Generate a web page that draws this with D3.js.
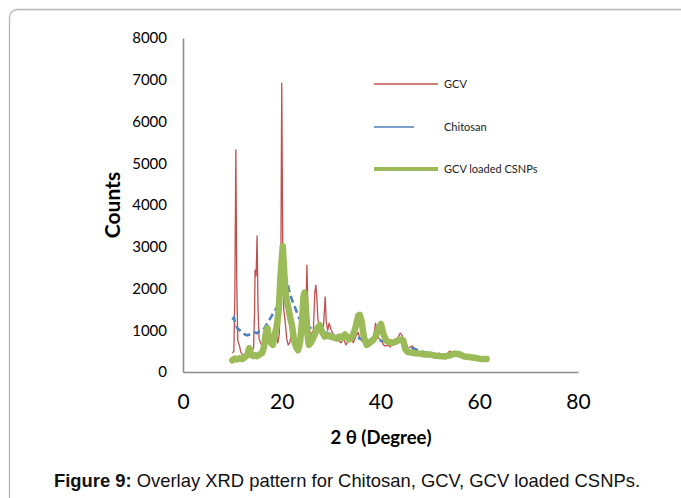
<!DOCTYPE html>
<html><head><meta charset="utf-8">
<script src="https://cdn.jsdelivr.net/npm/d3@7"></script>
<style>body{margin:0;background:#fff}svg{display:block}</style>
</head><body>
<script>
const xTicks = [0, 20, 40, 60, 80];
const yTicks = [0, 1000, 2000, 3000, 4000, 5000, 6000, 7000, 8000];
const seriesNames = ["GCV", "Chitosan", "GCV loaded CSNPs"];

const gcv = [[10.0,450],[10.3,500],[10.5,1800],[10.7,5320],[10.9,2000],[11.1,750],[11.4,650],[11.7,480],[12.0,420],[12.5,400],[13.0,450],[13.5,420],[14.0,480],[14.3,600],[14.5,1500],[14.6,2440],[14.8,2300],[15.0,3260],[15.2,1500],[15.4,800],[15.7,700],[16.0,620],[16.5,560],[17.0,700],[17.3,900],[17.6,650],[18.0,800],[18.4,900],[18.8,1000],[19.2,700],[19.5,900],[19.8,2200],[20.0,6920],[20.2,3000],[20.4,1500],[20.7,1200],[21.0,800],[21.3,650],[21.6,700],[22.0,900],[22.3,1100],[22.6,800],[23.0,700],[23.4,650],[23.8,800],[24.2,900],[24.6,1200],[24.9,1500],[25.1,2560],[25.3,1500],[25.6,1000],[26.0,900],[26.4,1000],[26.7,1900],[26.9,2080],[27.1,1800],[27.3,1300],[27.6,1000],[28.0,900],[28.4,1000],[28.7,1600],[28.8,1800],[29.0,1200],[29.3,1000],[29.6,1170],[30.0,1000],[30.5,900],[31.0,850],[31.5,750],[32.0,700],[32.5,800],[33.0,650],[33.5,750],[34.0,800],[34.5,700],[35.0,850],[35.5,950],[35.8,800],[36.2,750],[36.6,700],[37.0,650],[37.5,600],[38.0,650],[38.5,750],[38.8,1000],[39.0,1170],[39.3,900],[39.7,800],[40.2,750],[40.6,650],[41.0,620],[41.5,650],[42.0,600],[42.5,700],[43.0,750],[43.5,820],[44.0,930],[44.3,900],[44.6,800],[45.0,650],[45.5,550],[46.0,600],[46.5,620],[47.0,500],[47.5,470],[48.0,450],[49.0,470],[50.0,430],[51.0,420],[52.0,450],[53.0,380],[54.0,500],[55.0,420],[56.0,400],[57.0,380],[58.0,350],[59.0,330],[60.0,320],[61.0,300]];

const chitosan = [[10.0,1250],[10.3,1300],[10.6,1150],[11.0,1050],[11.5,1000],[12.0,950],[12.5,900],[13.0,880],[13.5,900],[14.0,920],[14.5,950],[15.0,930],[15.5,980],[16.0,1000],[16.5,1050],[17.0,1150],[17.5,1250],[18.0,1350],[18.5,1450],[19.0,1550],[19.5,1800],[20.0,2100],[20.5,2270],[21.0,2200],[21.5,1950],[22.0,1750],[22.5,1600],[23.0,1450],[23.5,1300],[24.0,1200],[24.5,1150],[25.0,1100],[26.0,1050],[27.0,1050],[28.0,1000],[29.0,950],[30.0,900],[31.0,870],[32.0,850],[33.0,830],[34.0,820],[35.0,820],[36.0,800],[37.0,780],[38.0,770],[39.0,760],[40.0,750],[41.0,740],[42.0,730],[43.0,720],[44.0,700],[45.0,650],[46.0,580],[47.0,550],[48.0,500],[49.0,470],[50.0,450],[52.0,420],[54.0,410],[56.0,380],[58.0,350],[60.0,320],[61.0,300]];

const csnp = [[10.0,280],[10.5,320],[11.0,300],[11.5,330],[12.0,310],[12.5,350],[13.0,400],[13.4,570],[13.8,420],[14.2,380],[14.6,400],[15.0,380],[15.5,420],[16.0,450],[16.4,600],[16.8,950],[17.1,1050],[17.4,800],[17.8,700],[18.2,650],[18.6,900],[19.0,1100],[19.4,1500],[19.7,2200],[20.0,2700],[20.2,3010],[20.4,2600],[20.7,2000],[21.0,1720],[21.4,1500],[21.8,1250],[22.1,1100],[22.5,750],[22.9,600],[23.3,520],[23.7,700],[24.1,1200],[24.4,1800],[24.6,1900],[24.9,1500],[25.2,900],[25.5,650],[25.9,700],[26.3,800],[26.7,900],[27.2,1050],[27.7,1120],[28.2,950],[28.7,850],[29.2,880],[29.8,850],[30.5,830],[31.2,800],[31.8,850],[32.3,820],[32.8,900],[33.2,850],[33.6,780],[34.0,800],[34.5,900],[35.0,1100],[35.5,1350],[35.8,1370],[36.2,1200],[36.6,850],[37.2,650],[37.8,700],[38.4,750],[39.0,850],[39.6,1050],[40.1,1150],[40.6,900],[41.2,750],[41.8,720],[42.4,700],[43.0,720],[43.6,760],[44.2,780],[44.6,760],[45.0,550],[45.5,480],[46.0,470],[47.0,450],[48.0,440],[49.0,420],[50.0,420],[51.0,390],[52.0,380],[53.0,370],[54.0,400],[55.0,440],[56.0,430],[57.0,370],[58.0,360],[59.0,340],[60.0,320],[61.0,310],[61.5,310]];

const W = 681, H = 498;
const svg = d3.select("body").append("svg").attr("width", W).attr("height", H);

// frame
svg.append("rect").attr("x", 9.5).attr("y", 9.5).attr("width", 720).attr("height", 540)
  .attr("rx", 8).attr("fill", "none").attr("stroke", "#b4b4b4").attr("stroke-width", 1.3);

const x = d3.scaleLinear().domain([0, 80]).range([183, 578]);
const y = d3.scaleLinear().domain([0, 8000]).range([372, 38]);

const font = "Lato, 'Open Sans', sans-serif";

// axes
const xAxis = svg.append("g").attr("transform", `translate(0,${y(0)})`)
  .call(d3.axisBottom(x).tickValues(xTicks).tickSize(0).tickPadding(22));
xAxis.select(".domain").attr("stroke", "#8c8c8c").attr("stroke-width", 1.6);
xAxis.selectAll("text").attr("font-family", font).attr("font-size", 21).attr("fill", "#000");

const yAxis = svg.append("g").attr("transform", `translate(${x(0)},0)`)
  .call(d3.axisLeft(y).tickValues(yTicks).tickSize(0).tickPadding(16).tickFormat(d3.format("d")));
yAxis.select(".domain").attr("stroke", "#8c8c8c").attr("stroke-width", 1.6);
yAxis.selectAll("text").attr("font-family", font).attr("font-size", 15).attr("fill", "#000");

// lines
const line = d3.line().x(d => x(d[0])).y(d => y(d[1]));
svg.append("path").datum(gcv).attr("d", line).attr("fill", "none")
  .attr("stroke", "#c0504d").attr("stroke-width", 1.3).attr("stroke-linejoin", "round");
svg.append("path").datum(chitosan).attr("d", line).attr("fill", "none")
  .attr("stroke", "#4f81bd").attr("stroke-width", 2.6).attr("stroke-dasharray", "7,4");
svg.append("path").datum(csnp).attr("d", line).attr("fill", "none")
  .attr("stroke", "#9bbb59").attr("stroke-width", 6.5).attr("stroke-linejoin", "round").attr("stroke-linecap", "round");

// legend
const leg = [
  {name: seriesNames[0], y: 84, x2: 438, color: "#c0504d", w: 1.3},
  {name: seriesNames[1], y: 127, x2: 414, color: "#4f81bd", w: 1.6},
  {name: seriesNames[2], y: 169, x2: 438, color: "#9bbb59", w: 4}
];
leg.forEach(l => {
  svg.append("line").attr("x1", 374).attr("x2", l.x2).attr("y1", l.y).attr("y2", l.y)
    .attr("stroke", l.color).attr("stroke-width", l.w);
  svg.append("text").attr("x", 444).attr("y", l.y).attr("dy", "0.35em")
    .attr("font-family", font).attr("font-size", 11).attr("fill", "#222").text(l.name);
});

// axis titles
svg.append("text").attr("x", 381).attr("y", 438).attr("dy", "0.35em").attr("text-anchor", "middle")
  .attr("font-family", font).attr("font-weight", "bold").attr("font-size", 18.5).text("2 θ (Degree)");
svg.append("text").attr("transform", "translate(113,205) rotate(-90)").attr("dy", "0.35em")
  .attr("text-anchor", "middle").attr("font-family", font).attr("font-weight", "bold")
  .attr("font-size", 21).text("Counts");

// caption
const cap = svg.append("text").attr("x", 347).attr("y", 481).attr("dy", "0.35em").attr("text-anchor", "middle")
  .attr("font-family", "'Liberation Sans', Arial, sans-serif").attr("font-size", 18.4).attr("fill", "#111");
cap.append("tspan").attr("font-weight", "bold").text("Figure 9:");
cap.append("tspan").text(" Overlay XRD pattern for Chitosan, GCV, GCV loaded CSNPs.");
</script>
</body></html>
